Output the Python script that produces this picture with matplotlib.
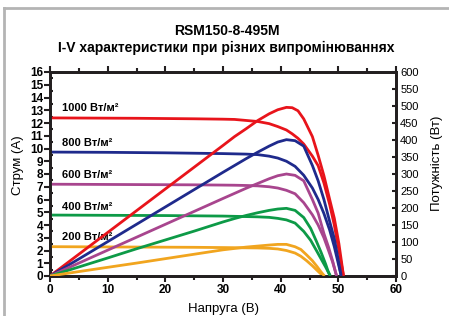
import matplotlib
matplotlib.use('Agg')
import matplotlib.pyplot as plt
from matplotlib.lines import Line2D

plt.rcParams['font.family'] = ['Liberation Sans', 'DejaVu Sans']

# irradiance curves: voltage (V), current (A), power (W)
labels = ['1000 Вт/м²', '800 Вт/м²', '600 Вт/м²', '400 Вт/м²', '200 Вт/м²']
colors = ['#e8141b', '#1f2a8c', '#a8458e', '#0d9a47', '#f1a51f']

v_1000 = [0, 5, 10, 15, 20, 25, 30, 32, 34, 36, 38, 39.5, 41, 42, 43, 44, 45.5, 46.5, 47.5, 48.5, 49.3, 50.1, 50.9]
i_1000 = [12.4, 12.39, 12.38, 12.37, 12.35, 12.33, 12.3, 12.28, 12.2, 12.12, 11.95, 11.72, 11.45, 11.15,
          10.8, 10.35, 9.4, 8.65, 7.3, 5.6, 4.0, 2.0, 0]
p_1000 = [0, 64, 128, 192, 256, 320, 384, 410, 433, 457, 477, 489, 496, 495, 486, 462, 410, 355, 295, 225,
          170, 95, 0]

v_800 = [0, 5, 10, 15, 20, 25, 30, 32, 34, 36, 38, 39.5, 41, 42.5, 44, 45.5, 46.5, 47.5, 48.5, 49.3, 50.5]
i_800 = [9.72, 9.71, 9.70, 9.68, 9.66, 9.63, 9.6, 9.58, 9.56, 9.52, 9.4, 9.25, 9.0, 8.6, 7.9, 6.9, 6.0,
         4.9, 3.6, 2.3, 0]
p_800 = [0, 50, 101, 152, 203, 254, 305, 325, 345, 364, 382, 394, 401, 398, 382, 325, 280, 225, 160, 110, 0]

v_600 = [0, 5, 10, 15, 20, 25, 30, 32, 34, 36, 38, 39.5, 41, 42.5, 44, 45.5, 46.5, 47.5, 48.3, 49.0, 49.7]
i_600 = [7.2, 7.19, 7.18, 7.17, 7.16, 7.15, 7.13, 7.12, 7.1, 7.07, 7.0, 6.9, 6.72, 6.45, 5.75, 4.8, 4.0,
         3.0, 2.0, 1.1, 0]
p_600 = [0, 38, 76, 114, 152, 190, 228, 243, 258, 272, 286, 295, 300, 296, 280, 225, 185, 125, 85, 45, 0]

v_400 = [0, 5, 10, 15, 20, 25, 30, 32, 34, 36, 38, 39.5, 41, 42.5, 44, 45.2, 46.2, 47, 47.8, 48.2, 48.6]
i_400 = [4.78, 4.77, 4.76, 4.75, 4.74, 4.72, 4.7, 4.68, 4.66, 4.64, 4.6, 4.52, 4.4, 4.15, 3.5, 2.8, 2.0,
         1.35, 0.7, 0.35, 0]
p_400 = [0, 26.5, 53, 80, 106, 132, 159, 169, 178, 186, 193, 197, 199, 193, 172, 140, 102, 70, 35, 15, 0]

v_200 = [0, 5, 10, 15, 20, 25, 30, 32, 34, 36, 38, 39.5, 41, 42.5, 43.5, 44.5, 45.5, 46.3, 47.0, 47.6]
i_200 = [2.3, 2.29, 2.28, 2.27, 2.26, 2.25, 2.23, 2.22, 2.21, 2.2, 2.17, 2.12, 2.0, 1.8, 1.55, 1.2, 0.8,
         0.45, 0.15, 0]
p_200 = [0, 13, 25.5, 38, 51, 64, 77, 81, 85, 88, 91, 93, 93, 86, 78, 62, 45, 28, 12, 0]

volts = [v_1000, v_800, v_600, v_400, v_200]
currents = [i_1000, i_800, i_600, i_400, i_200]
powers = [p_1000, p_800, p_600, p_400, p_200]
label_y = [13.2, 10.4, 7.9, 5.4, 3.05]

x_ticks = [0, 10, 20, 30, 40, 50, 60]
y_ticks = list(range(0, 17))
p_ticks = list(range(0, 601, 50))

fig = plt.figure(figsize=(4.49, 3.16), dpi=100)

# grey frame around the picture
frame_c = '#b4b4b4'
fig.add_artist(Line2D([4 / 449, 4 / 449], [0, 1 - 8 / 316], transform=fig.transFigure, color=frame_c, lw=2))
fig.add_artist(Line2D([4 / 449, 1], [1 - 8 / 316, 1 - 8 / 316], transform=fig.transFigure, color=frame_c, lw=2))

fig.text(0.505, 1 - 31 / 316, 'RSM150-8-495M', ha='center', va='center', fontsize=10, fontweight='bold')
fig.text(0.505, 1 - 47.5 / 316, 'I-V характеристики при різних випромінюваннях', ha='center', va='center',
         fontsize=10, fontweight='bold')

ax = fig.add_axes([50 / 449, 40 / 316, 346 / 449, 204 / 316])
ax2 = ax.twinx()

for v, i, p, c in zip(volts, currents, powers, colors):
    ax.plot(v, i, color=c, lw=2, solid_capstyle='butt', zorder=3)
    ax2.plot(v, p, color=c, lw=2, solid_capstyle='butt', zorder=3)

for lab, ly in zip(labels, label_y):
    ax.text(2.0, ly, lab, fontsize=8, fontweight='bold', va='center', ha='left', zorder=5)

ax.set_xlim(0, 60)
ax.set_ylim(0, 16)
ax2.set_ylim(0, 600)

ax.set_xticks(x_ticks)
ax.set_xticks(range(0, 61, 5), minor=True)
ax.set_yticks(y_ticks)
ax.set_yticks([y + 0.5 for y in range(16)], minor=True)
ax2.set_yticks(p_ticks)

spine_c = '#231f20'
for a in (ax, ax2):
    for s in a.spines.values():
        s.set_linewidth(2)
        s.set_color(spine_c)

ax.tick_params(axis='x', which='major', direction='out', length=4, width=1.5, color=spine_c,
               labelsize=8.5, pad=2, top=True)
ax.tick_params(axis='x', which='minor', direction='out', length=3, width=1.5, color=spine_c, top=True)
ax.tick_params(axis='y', which='major', direction='out', length=4, width=1.5, color=spine_c,
               labelsize=8.5, pad=1)
ax.tick_params(axis='y', which='minor', direction='in', length=2, width=1.5, color=spine_c)
ax2.tick_params(axis='y', which='major', direction='in', length=3, width=1.5, color=spine_c,
                labelsize=8, pad=3)
for lab in ax.get_xticklabels() + ax.get_yticklabels():
    lab.set_fontweight('bold')

ax.set_xlabel('Напруга (В)', fontsize=9.5, labelpad=5)
ax.set_ylabel('Струм (А)', fontsize=9.5)
ax.yaxis.set_label_coords(-0.075, 0.545)
ax2.set_ylabel('Потужність (Вт)', fontsize=9.5)
ax2.yaxis.set_label_coords(1.1, 0.55)

fig.savefig('out.png', dpi=100)
plt.close()
